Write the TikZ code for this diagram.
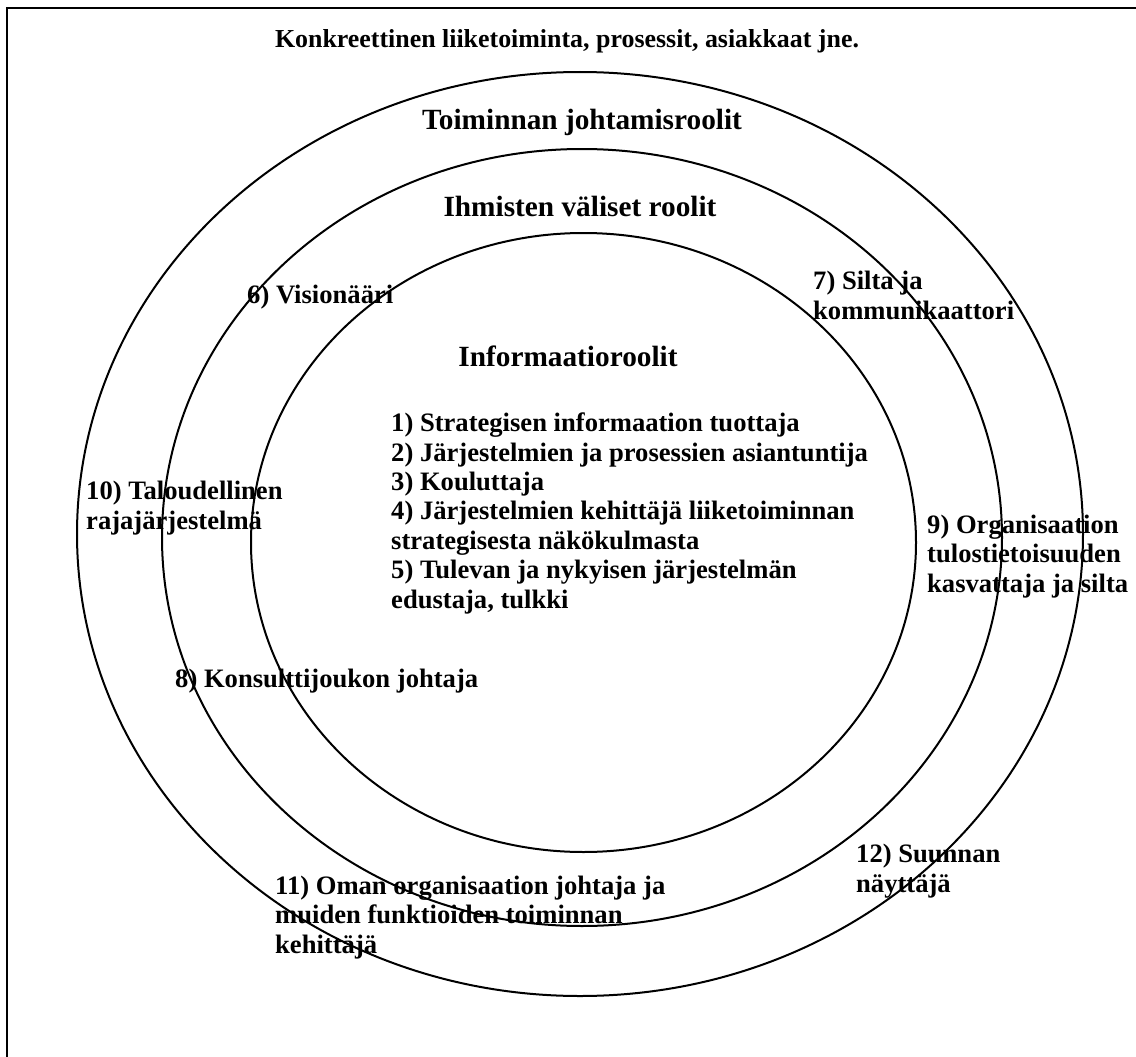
\documentclass[tikz,border=0pt]{standalone}
\usepackage{fontspec}
\setmainfont{Liberation Serif}
\begin{document}
\begin{tikzpicture}[x=1pt,y=-1pt,
  ring/.style={line width=2pt},
  frameline/.style={line width=2pt},
  % multi-line labels are placed by the baseline of their last line
  lbl/.style={font=\bfseries\fontsize{26.6}{29.4}\selectfont, inner sep=0pt, align=left, anchor=base west},
  head/.style={font=\bfseries\fontsize{29.3}{33}\selectfont, inner sep=0pt, anchor=base},
  top/.style={font=\bfseries\fontsize{25.9}{29.4}\selectfont, inner sep=0pt, anchor=base}]
\useasboundingbox (0,0) rectangle (1136,1057);

% frame (top and left edges)
\coordinate (ftr) at (1136,8);
\coordinate (ftl) at (7,8);
\coordinate (fbl) at (7,1057);
\draw[frameline] (ftr) -- (ftl) -- (fbl);

% three nested rings
\draw[ring] (580,534) ellipse [x radius=503pt, y radius=462pt];
\draw[ring] (582,537.5) ellipse [x radius=420pt, y radius=388.5pt];
\draw[ring] (583.5,542.5) ellipse [x radius=332.5pt, y radius=309.5pt];

% headings
\node[top]  (business) at (567,48)  {Konkreettinen liiketoiminta, prosessit, asiakkaat jne.};
\node[head] (mgmt)     at (582,129) {Toiminnan johtamisroolit};
\node[head] (inter)    at (580,216) {Ihmisten väliset roolit};
\node[head] (info)     at (568,366) {Informaatioroolit};

% role labels
\node[lbl] (r6)  at (247,303) {6) Visionääri};
\node[lbl] (r7)  at (813,319) {7) Silta ja\\kommunikaattori};
\node[lbl] (r10) at (86,529)  {10) Taloudellinen\\rajajärjestelmä};
\node[lbl] (r9)  at (927,592) {9) Organisaation\\tulostietoisuuden\\kasvattaja ja silta};
\node[lbl] (r15) at (391,608) {1) Strategisen informaation tuottaja\\
2) Järjestelmien ja prosessien asiantuntija\\
3) Kouluttaja\\
4) Järjestelmien kehittäjä liiketoiminnan\\
strategisesta näkökulmasta\\
5) Tulevan ja nykyisen järjestelmän\\
edustaja, tulkki};
\node[lbl] (r8)  at (175,687) {8) Konsulttijoukon johtaja};
\node[lbl] (r11) at (275,953) {11) Oman organisaation johtaja ja\\muiden funktioiden toiminnan\\kehittäjä};
\node[lbl] (r12) at (856,892) {12) Suunnan\\näyttäjä};
\end{tikzpicture}
\end{document}
